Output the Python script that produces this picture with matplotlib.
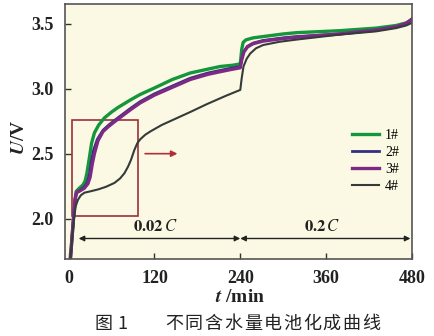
import matplotlib
matplotlib.use("Agg")
from matplotlib import pyplot as plt
from matplotlib.patches import Rectangle

plt.rcParams['mathtext.fontset'] = 'stix'
plt.rcParams['font.family'] = ['Liberation Serif', 'DejaVu Sans']

# charging curves, t in min, U in V
t1 = [1.5, 5, 7, 9, 10.5, 15, 20, 23, 25.5, 29, 32, 36, 42, 50, 60, 69, 87, 100, 120, 145, 170, 195, 212, 230, 240,
      242, 244, 248, 258, 272, 300, 319, 379, 430, 458, 472, 480]
u1 = [1.62, 1.88, 2.02, 2.15, 2.21, 2.235, 2.26, 2.29, 2.35, 2.47, 2.58, 2.66, 2.72, 2.775, 2.82, 2.855, 2.915, 2.955,
      3.005, 3.07, 3.12, 3.15, 3.17, 3.18, 3.19, 3.30, 3.355, 3.375, 3.39, 3.40, 3.42, 3.43, 3.445, 3.465, 3.485, 3.505, 3.53]

t2 = [1.5, 5, 7, 9, 11, 16, 22, 26, 29, 32, 35, 40, 48, 56, 64, 87, 100, 120, 145, 170, 195, 212, 230, 240,
      242, 245, 250, 258, 272, 300, 319, 379, 430, 458, 472, 480]
u2 = [1.62, 1.88, 2.02, 2.15, 2.2, 2.22, 2.245, 2.28, 2.34, 2.45, 2.53, 2.61, 2.68, 2.72, 2.755, 2.85, 2.9, 2.96,
      3.02, 3.08, 3.12, 3.14, 3.16, 3.168, 3.23, 3.285, 3.325, 3.35, 3.37, 3.39, 3.40, 3.42, 3.45, 3.475, 3.5, 3.53]

t3 = [1.5, 5, 7, 9, 11, 16, 22, 27, 30, 33, 36, 41, 48, 56, 64, 87, 100, 120, 145, 170, 195, 212, 230, 240,
      242, 245, 250, 258, 272, 300, 319, 379, 430, 458, 472, 480]
u3 = [1.62, 1.88, 2.02, 2.15, 2.2, 2.215, 2.235, 2.27, 2.32, 2.42, 2.5, 2.6, 2.67, 2.71, 2.745, 2.84, 2.89, 2.95,
      3.01, 3.07, 3.11, 3.13, 3.15, 3.16, 3.22, 3.28, 3.32, 3.345, 3.365, 3.385, 3.395, 3.42, 3.45, 3.475, 3.5, 3.535]

t4 = [1.5, 5, 7.4, 10, 13, 17, 22, 30, 41, 52, 64, 72, 78, 83, 87, 92, 96, 100, 107, 114, 130, 146, 170, 193, 220, 240,
      242, 244.5, 249, 254, 262, 272, 295, 319, 379, 430, 458, 472, 480]
u4 = [1.62, 1.86, 2.0, 2.1, 2.146, 2.18, 2.2, 2.21, 2.225, 2.245, 2.275, 2.31, 2.35, 2.40, 2.45, 2.53, 2.58, 2.61,
      2.645, 2.67, 2.72, 2.76, 2.82, 2.88, 2.945, 2.99, 3.08, 3.17, 3.23, 3.27, 3.31, 3.335, 3.36, 3.377, 3.415, 3.44,
      3.465, 3.485, 3.505]

labels = ['1#', '2#', '3#', '4#']
colors = ['#15953c', '#33307f', '#7c2a85', '#353b3b']
widths = [2.4, 2.0, 2.4, 1.5]

fig = plt.figure(figsize=(4.34, 3.36), dpi=100)
ax = fig.add_axes([0.150, 0.229, 0.799, 0.759])
ax.set_facecolor('#fbf9e3')

for t, u, lab, c, w in zip([t1, t2, t3, t4], [u1, u2, u3, u4], labels, colors, widths):
    ax.plot(t, u, color=c, lw=w, label=lab, solid_joinstyle='round')

ax.set_xlim(-5, 480)
ax.set_ylim(1.69, 3.65)
ax.set_xticks([0, 120, 240, 360, 480])
ax.set_yticks([2.0, 2.5, 3.0, 3.5])
ax.set_yticklabels(['2.0', '2.5', '3.0', '3.5'])
ax.tick_params(direction='in', length=4, width=1, labelsize=13, pad=8, colors='#333333')
for lbl in ax.get_xticklabels() + ax.get_yticklabels():
    lbl.set_fontweight('bold')
    lbl.set_color('#222222')
for s in ax.spines.values():
    s.set_color('#555555')
    s.set_linewidth(1.2)

# zoom box + red arrow
ax.add_patch(Rectangle((4, 2.018), 93.6, 0.738, fill=False, ec='#9c2f38', lw=1.2))
ax.annotate('', xy=(156, 2.5), xytext=(103, 2.5),
            arrowprops=dict(arrowstyle='-|>', color='#b03038', lw=1.2, mutation_scale=9))

# rate arrows
ax.annotate('', xy=(14, 1.848), xytext=(240, 1.848),
            arrowprops=dict(arrowstyle='<|-|>', color='#222222', lw=1.0, mutation_scale=8, shrinkA=0, shrinkB=0))
ax.annotate('', xy=(240, 1.848), xytext=(478, 1.848),
            arrowprops=dict(arrowstyle='<|-|>', color='#222222', lw=1.0, mutation_scale=8, shrinkA=0, shrinkB=0))
ax.text(121, 1.875, r'$\mathbf{0.02}\,\mathit{C}$', ha='center', va='bottom', fontsize=12, color='#222222')
ax.text(354, 1.875, r'$\mathbf{0.2}\,\mathit{C}$', ha='center', va='bottom', fontsize=12, color='#222222')

leg = ax.legend(loc='upper left', bbox_to_anchor=(0.79, 0.56), frameon=False, fontsize=10,
                handlelength=2.0, handletextpad=0.4, labelspacing=0.3)

fig.text(0.045, 0.59, r'$\mathbfit{U}$' + '/V', rotation=90, ha='center', va='center',
         fontsize=14, fontweight='bold', color='#222222')
fig.text(0.553, 0.116, r'$\mathbfit{t}$' + ' /min', ha='center', va='center',
         fontsize=14, fontweight='bold', color='#222222')

# caption, drawn char by char for the wide spacing
cjk = ['Noto Sans CJK SC', 'DejaVu Sans']
fig.text(104 / 434, 0.036, '图', ha='center', va='center', fontsize=13, color='#222222', family=cjk)
fig.text(122.5 / 434, 0.036, '1', ha='center', va='center', fontsize=13, color='#222222', family=cjk)
caption = '不同含水量电池化成曲线'
for i, ch in enumerate(caption):
    fig.text((174 + i * 19.7) / 434, 0.036, ch, ha='center', va='center', fontsize=13,
             color='#222222', family=cjk)

fig.savefig('out.png', dpi=100, facecolor='white')
